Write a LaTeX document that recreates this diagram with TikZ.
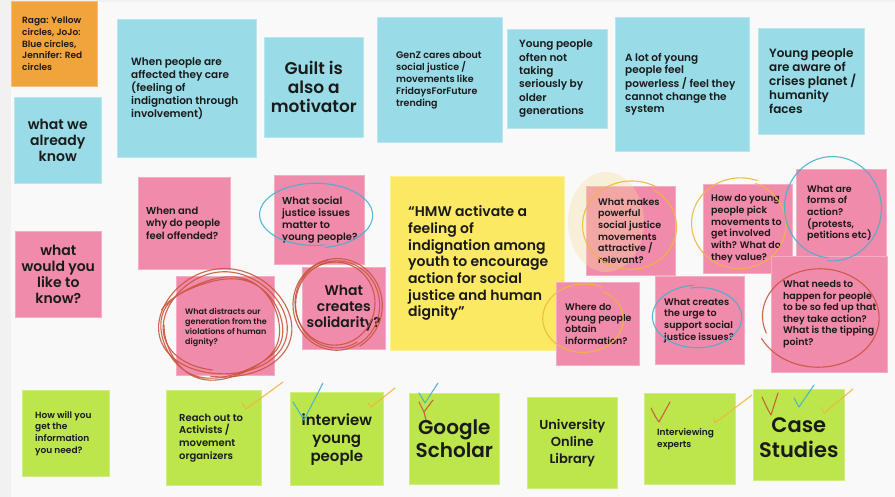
\documentclass[tikz,border=0pt]{standalone}
\usepackage{fontspec}
\setmainfont{Poppins}[UprightFont={* SemiBold},BoldFont={* Bold}]
\definecolor{paper}{HTML}{F9F9F9}
\definecolor{paperedge}{HTML}{F1F1F1}
\definecolor{cyanN}{HTML}{99DCE8}
\definecolor{pinkN}{HTML}{F08BAB}
\definecolor{yellowN}{HTML}{FBE963}
\definecolor{greenN}{HTML}{BCE64C}
\definecolor{orangeN}{HTML}{F1A33C}
\definecolor{ink}{HTML}{1A1A1A}
\definecolor{penred}{HTML}{C9553D}
\definecolor{penblue}{HTML}{45B1D2}
\definecolor{penyellow}{HTML}{F0B63E}
\definecolor{glow}{HTML}{F6DE9A}
\newcommand\fsz[2]{\fontsize{#1}{#2}\selectfont}
% sticky note: name, colour, left, top, right, bottom
\newcommand\stk[6]{%
  \node[stk, fill=#2, draw=#2!70!white, minimum width={(#5-#3)*1pt}, minimum height={(#6-#4)*1pt}] (#1) at (#3,#4) {};}
\tikzset{
  stk/.style={anchor=north west, inner sep=0pt, line width=0.6pt},
  lt/.style={anchor=west, align=left, inner sep=0pt, text=ink},
  ct/.style={anchor=center, align=center, inner sep=0pt, text=ink},
  pen/.style={line width=1.1pt, line cap=round, line join=round, opacity=0.9},
}
\begin{document}
\begin{tikzpicture}[x=1pt,y=-1pt]
\useasboundingbox (0,0) rectangle (895,497);
\fill[paperedge] (0,0) rectangle (895,497);
\fill[paper] (11,2) rectangle (895,497);

% --- top row: what we already know (cyan) ---
\stk{legend}{orangeN}{11}{1}{97}{86}
\stk{knowq}{cyanN}{14}{97}{101}{183}
\stk{affected}{cyanN}{117}{19}{256}{157}
\stk{guilt}{cyanN}{264}{37}{363}{137}
\stk{genz}{cyanN}{377}{17}{502}{142}
\stk{notserious}{cyanN}{507}{29}{607}{128}
\stk{powerless}{cyanN}{615}{17}{749}{151}
\stk{aware}{cyanN}{758}{28}{864}{134}

% --- middle rows: what would you like to know (pink) ---
\stk{likeq}{pinkN}{15}{231}{101}{317}
\stk{offended}{pinkN}{138}{177}{230}{269}
\stk{issues}{pinkN}{274}{175}{364}{264}
\stk{distracts}{pinkN}{176}{276}{274}{375}
\stk{solidarity}{pinkN}{302}{267}{385}{349}
\stk{hmw}{yellowN}{390}{176}{564}{350}
\stk{attractive}{pinkN}{586}{186}{675}{275}
\stk{pick}{pinkN}{703}{184}{792}{273}
\stk{forms}{pinkN}{796}{169}{886}{257}
\stk{tipping}{pinkN}{771}{256}{887}{372}
\stk{obtain}{pinkN}{556}{282}{639}{365}
\stk{urge}{pinkN}{655}{276}{744}{364}

% --- bottom row: how will you get the information (green) ---
\stk{howq}{greenN}{22}{390}{109}{476}
\stk{reach}{greenN}{166}{390}{261}{485}
\stk{interview}{greenN}{290}{392}{383}{485}
\stk{scholar}{greenN}{409}{393}{499}{484}
\stk{library}{greenN}{527}{397}{617}{488}
\stk{experts}{greenN}{644}{393}{735}{484}
\stk{cases}{greenN}{753}{389}{844}{480}

% soft highlighter glow on the left of one note
\fill[glow, opacity=0.35] (606,222) ellipse [x radius=38, y radius=50];

% --- texts ---
\node[lt, font=\fsz{9}{11.6}] (t-legend) at ([xshift=11pt]legend.west) {Raga: Yellow\\circles, JoJo:\\Blue circles,\\Jennifer: Red\\circles};
\node[ct, font=\fsz{14}{16}] (t-knowq) at (knowq.center) {what we\\already\\know};
\node[lt, font=\fsz{10.5}{13}] (t-affected) at ([xshift=14pt]affected.west) {When people are\\affected they care\\(feeling of\\indignation through\\involvement)};
\node[ct, font=\fsz{17}{19}] (t-guilt) at (guilt.center) {Guilt is\\also a\\motivator};
\node[lt, font=\fsz{9.5}{12}] (t-genz) at ([xshift=19pt]genz.west) {GenZ cares about\\social justice /\\movements like\\FridaysForFuture\\trending};
\node[lt, font=\fsz{10.5}{13.3}] (t-notserious) at ([xshift=12pt]notserious.west) {Young people\\often not\\taking\\seriously by\\older\\generations};
\node[lt, font=\fsz{10.5}{12.7}] (t-powerless) at ([xshift=10pt]powerless.west) {A lot of young\\people feel\\powerless / feel they\\cannot change the\\system};
\node[lt, font=\fsz{12}{14}] (t-aware) at ([xshift=11pt]aware.west) {Young people\\are aware of\\crises planet /\\humanity\\faces};

\node[ct, font=\fsz{14}{16}] (t-likeq) at (likeq.center) {what\\would you\\like to\\know?};
\node[lt, font=\fsz{10}{12.3}] (t-offended) at ([xshift=8pt]offended.west) {When and\\why do people\\feel offended?};
\node[lt, font=\fsz{10}{12}] (t-issues) at ([xshift=8pt]issues.west) {What social\\justice issues\\matter to\\young people?};
\node[lt, font=\fsz{8}{10}] (t-distracts) at ([xshift=9pt,yshift=-2pt]distracts.west) {What distracts our\\generation from the\\violations of human\\dignity?};
\node[ct, font=\fsz{14}{16}] (t-solidarity) at (solidarity.center) {What\\creates\\solidarity?};
\node[lt, font=\fsz{14}{16.7}] (t-hmw) at ([xshift=18pt]hmw.west) {“HMW activate a\\feeling of\\indignation among\\youth to encourage\\action for social\\justice and human\\dignity”};
\node[lt, font=\fsz{9.5}{11.7}] (t-attractive) at ([xshift=12pt]attractive.west) {What makes\\powerful\\social justice\\movements\\attractive /\\relevant?};
\node[lt, font=\fsz{9.5}{11.7}] (t-pick) at ([xshift=8pt]pick.west) {How do young\\people pick\\movements to\\get involved\\with? What do\\they value?};
\node[lt, font=\fsz{9.5}{11.7}] (t-forms) at ([xshift=11pt]forms.west) {What are\\forms of\\action?\\(protests,\\petitions etc)};
\node[lt, font=\fsz{9.5}{11.5}] (t-tipping) at ([xshift=12pt]tipping.west) {What needs to\\happen for people\\to be so fed up that\\they take action?\\What is the tipping\\point?};
\node[lt, font=\fsz{9.5}{11.2}] (t-obtain) at ([xshift=9pt]obtain.west) {Where do\\young people\\obtain\\information?};
\node[lt, font=\fsz{9.5}{11.7}] (t-urge) at ([xshift=9pt]urge.west) {What creates\\the urge to\\support social\\justice issues?};

\node[lt, font=\fsz{9}{11.7}] (t-howq) at ([xshift=13pt]howq.west) {How will you\\get the\\information\\you need?};
\node[lt, font=\fsz{10}{12.7}] (t-reach) at ([xshift=13pt]reach.west) {Reach out to\\Activists /\\movement\\organizers};
\node[ct, font=\fsz{15}{18}] (t-interview) at ([yshift=-1pt]interview.center) {interview\\young\\people};
\node[ct, font=\fsz{20}{23.5}] (t-scholar) at (scholar.center) {Google\\Scholar};
\node[ct, font=\fsz{13}{17}] (t-library) at (library.center) {University\\Online\\Library};
\node[lt, font=\fsz{9}{12}] (t-experts) at ([xshift=13pt]experts.west) {Interviewing\\experts};
\node[ct, font=\fsz{21}{24.5}] (t-cases) at ([yshift=-3pt]cases.center) {Case\\Studies};

% --- marker annotations ---
% yellow loops
\draw[pen, penyellow] plot[smooth, domain=-60:300, samples=40]
  ({631+48*cos(\x)*(0.93+0.12*(\x+60)/360)}, {226+44*sin(\x)*(0.95+0.08*(\x+60)/360)});
\draw[pen, penyellow] plot[smooth, domain=-70:290, samples=40]
  ({740+48*cos(\x)*(0.94+0.1*(\x+70)/360)}, {224+45*sin(\x)*(0.96+0.07*(\x+70)/360)});
\draw[pen, penyellow] plot[smooth, domain=-60:295, samples=40]
  ({584+41*cos(\x)*(0.94+0.1*(\x+60)/360)}, {319+34*sin(\x)*(0.94+0.1*(\x+60)/360)});

% blue loops
\draw[pen, penblue] plot[smooth, domain=80:440, samples=40]
  ({315+57*cos(\x)*(0.95+0.08*(\x-80)/360)}, {215+32*sin(\x)*(0.95+0.08*(\x-80)/360)});
\draw[pen, penblue] plot[smooth, domain=95:455, samples=40]
  ({832+49*cos(\x)*(0.95+0.08*(\x-95)/360)}, {208+52*sin(\x)*(0.96+0.06*(\x-95)/360)});
\draw[pen, penblue] plot[smooth, domain=-100:265, samples=40]
  ({698+45*cos(\x)*(0.95+0.08*(\x+100)/360)}, {317+31*sin(\x)*(0.95+0.08*(\x+100)/360)});

% red loops
\draw[pen, penred] plot[smooth, domain=160:515, samples=40]
  ({819+61*cos(\x)*(0.92+0.12*(\x-160)/360)}, {317+50*sin(\x)*(0.94+0.08*(\x-160)/360)});
\draw[pen, penred] plot[smooth, domain=100:820, samples=80]
  ({224+66*cos(\x)*(0.9+0.14*(\x-100)/720)+4*sin(2*\x)}, {322+53*sin(\x)*(0.92+0.12*(\x-100)/720)});
\draw[pen, penred] plot[smooth, domain=200:900, samples=80]
  ({221+62*cos(\x)*(1.02-0.1*(\x-200)/700)}, {328+49*sin(\x)*(0.98+0.08*(\x-200)/700)+3*cos(3*\x)});
\draw[pen, penred] plot[smooth, domain=60:780, samples=80]
  ({337+44*cos(\x)*(0.92+0.12*(\x-60)/720)}, {305+46*sin(\x)*(0.93+0.1*(\x-60)/720)});
\draw[pen, penred] plot[smooth, domain=240:620, samples=40]
  ({335+40*cos(\x)}, {303+42*sin(\x)*(0.97+0.06*(\x-240)/380)});

% ticks on the chosen sources
\draw[pen, penyellow] (242,403) -- (246,409) -- (283,382);
\draw[pen, penblue] (293,402) -- (304,420) -- (323,383);
\draw[pen, penyellow] (368,403) -- (371,407) -- (395,388);
\draw[pen, penblue] (419,393) -- (425,403) -- (438,383);
\draw[pen, penred] (419,402) -- (424,412) -- (433,400);
\draw[pen, penred] (424,412) -- (426,420);
\draw[pen, penred] (651,408) .. controls (656,418) .. (659,422) -- (670,402);
\draw[pen, penyellow] (714,418) -- (715,423) -- (752,395);
\draw[pen, penred] (762,397) .. controls (767,408) .. (771,415) -- (778,393);
\draw[pen, penblue] (794,398) -- (799,407) -- (814,385);
\draw[pen, penyellow] (821,407) -- (824,413) -- (853,389);
\end{tikzpicture}
\end{document}
